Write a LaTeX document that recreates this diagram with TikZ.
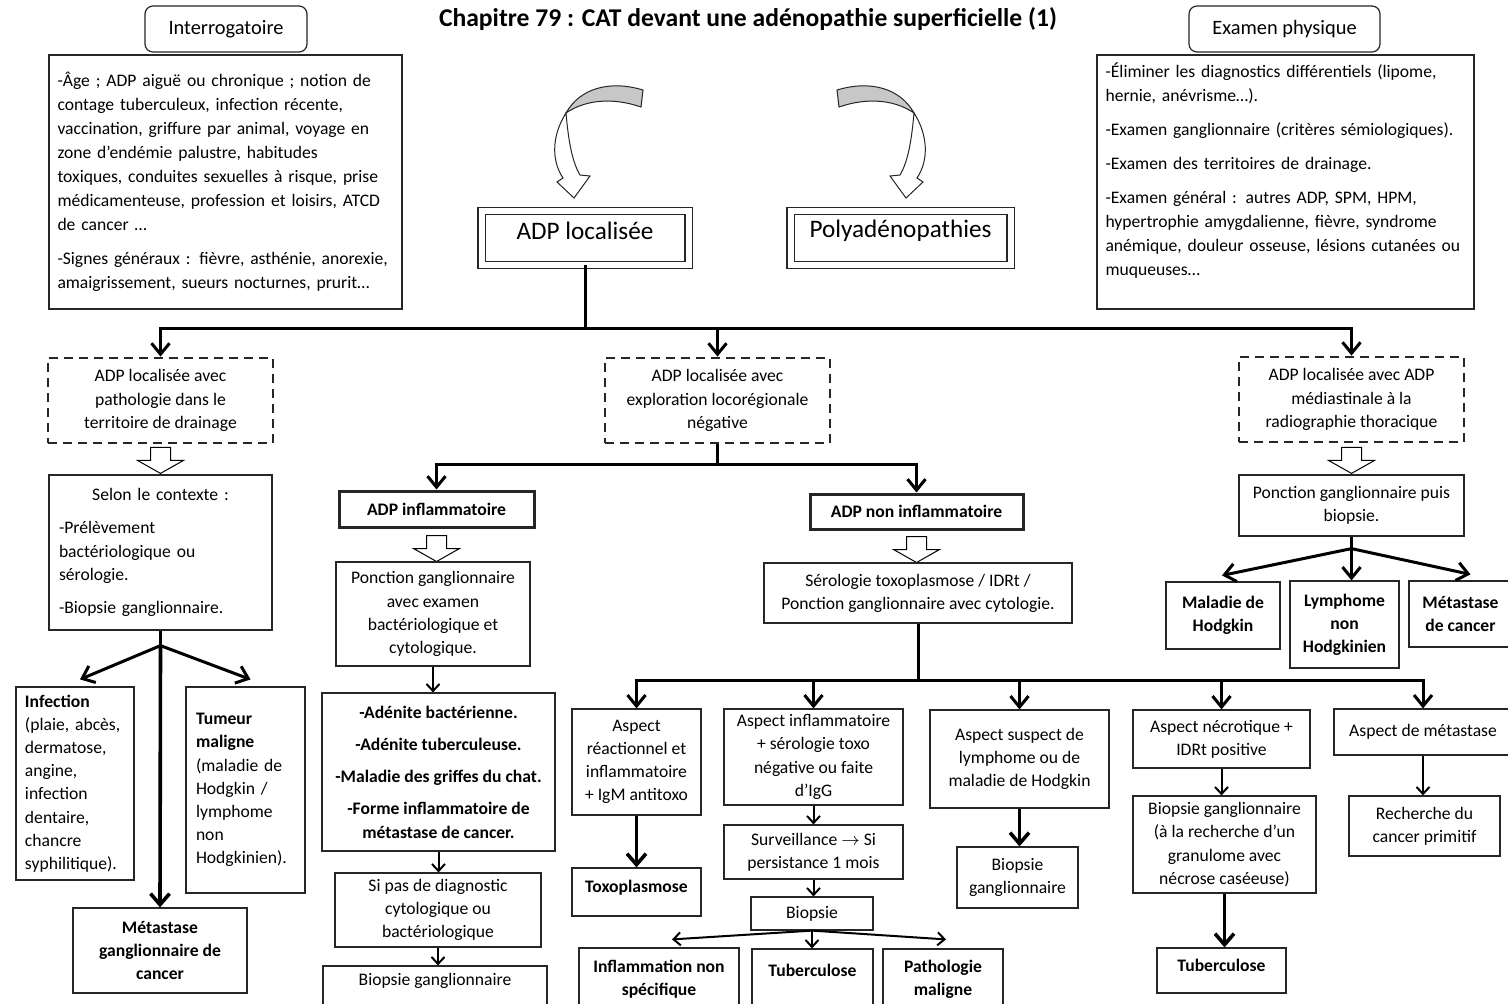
\documentclass[tikz,border=0pt]{standalone}
\usepackage{fontspec}
\setmainfont{Carlito}
\usetikzlibrary{
  arrows.meta,
  positioning,
  calc
}
\tikzset{
  plainbox/.style={
    draw=black!85,
    line width=0.6pt,
    inner sep=2pt,
    align=center,
    font=\fontsize{8.8}{11.6}\selectfont,
  },
  leftbox/.style={
    plainbox,
    align=left,
    inner xsep=5pt,
  },
  boldbox/.style={
    plainbox,
    font=\fontsize{8.8}{11.6}\selectfont\bfseries,
  },
  keybox/.style={
    boldbox,
    line width=1.5pt,
  },
  dashbox/.style={
    plainbox,
    line width=1.4pt,
    dash pattern=on 4.5pt off 3pt,
  },
  headbox/.style={
    plainbox,
    rounded corners=4pt,
    font=\fontsize{10.2}{12}\selectfont,
  },
  framebox/.style={
    draw=black!85,
    line width=0.6pt,
    double=white,
    double distance=3pt,
    font=\fontsize{12.6}{14}\selectfont,
  },
  link/.style={line width=1.5pt},
  arr/.style={-{Straight Barb[length=5.5pt,width=9pt]}, line width=1.5pt},
  bigarr/.style={-{Straight Barb[length=5.5pt,width=9.5pt]}, line width=1.8pt},
  thinarr/.style={-{Straight Barb[length=3.5pt,width=6.5pt]}, line width=1pt},
  hollowarrow/.pic={
    \draw[fill=white, line width=0.5pt]
      (-10,0) -- (10,0) -- (10,13) -- (23,13) -- (0,26) -- (-23,13) -- (-10,13) -- cycle;
  },
  % twisted ribbon arrow, grey back face then white front face with its head
  bentarrow/.pic={
    \draw[draw=black!85, fill=black!22, line width=0.5pt]
      (43,-50) .. controls (10,-60) and (-20,-52) .. (-34,-27)
      .. controls (-15,-40) and (12,-43) .. (41,-33) -- cycle;
    \draw[draw=black!85, fill=white, line width=0.5pt]
      (-34,-27) .. controls (-48,-5) and (-49,20) .. (-37,38)
      -- (-43,42) -- (-26,58) -- (-10,36) -- (-20,35)
      .. controls (-29,20) and (-32,-5) .. (-34,-27) -- cycle;
  },
}

\begin{document}
\begin{tikzpicture}[x=0.5pt, y=-0.5pt]
  \fill[white] (0,0) rectangle (1508,1003);
  \useasboundingbox (0,0) rectangle (1508,1003);

  % Header: title and the two clinical boxes
  \node[font=\fontsize{12.8}{15}\selectfont\bfseries] (title) at (748,19)
    {Chapitre 79 : CAT devant une adénopathie superficielle (1)};

  \node[headbox, minimum width=81pt, minimum height=23pt] (interrohead) at (226,29) {Interrogatoire};
  \node[leftbox, text width=168pt, inner xsep=4.25pt, minimum height=127pt,
        font=\fontsize{8.8}{12}\selectfont] (interro) at (225.5,182)
    {-Âge ; ADP aiguë ou chronique ; notion de\\
     contage tuberculeux, infection récente,\\
     vaccination, griffure par animal,  voyage en\\
     zone d’endémie palustre, habitudes\\
     toxiques, conduites sexuelles à risque, prise\\
     médicamenteuse, profession et loisirs, ATCD\\
     de cancer …\\[5pt]
     -Signes généraux : fièvre, asthénie, anorexie,\\
     amaigrissement, sueurs nocturnes, prurit…};

  \node[headbox, minimum width=95.5pt, minimum height=23pt] (examhead) at (1284.5,29) {Examen physique};
  \node[leftbox, text width=180pt, inner xsep=4.25pt, minimum height=127pt,
        font=\fontsize{8.8}{12}\selectfont] (exam) at (1285.5,182)
    {-Éliminer les diagnostics différentiels (lipome,\\
     hernie, anévrisme…).\\[5pt]
     -Examen ganglionnaire (critères sémiologiques).\\[5pt]
     -Examen des territoires de drainage.\\[5pt]
     -Examen général : autres ADP, SPM, HPM,\\
     hypertrophie amygdalienne, fièvre, syndrome\\
     anémique, douleur osseuse, lésions cutanées ou\\
     muqueuses…\\[1pt]\mbox{}};

  % Curved arrows towards the two presentations
  \pic at (600,140) {bentarrow};
  \pic[xscale=-1] at (880,140) {bentarrow};

  \node[framebox, minimum width=103.5pt, minimum height=26.75pt, text depth=7.5pt] (adploc) at (585,238) {ADP localisée};
  \node[framebox, minimum width=110pt, minimum height=26.75pt, text depth=9pt] (polyadp) at (900.5,238) {Polyadénopathies};

  % Three situations of a localised ADP
  \node[dashbox, minimum width=112.5pt, minimum height=42.5pt] (drain) at (160.5,400.5)
    {ADP localisée avec\\pathologie dans le\\territoire de drainage};
  \node[dashbox, minimum width=112.5pt, minimum height=42.5pt] (explo) at (717.5,400.5)
    {ADP localisée avec\\exploration locorégionale\\négative};
  \node[dashbox, minimum width=112.5pt, minimum height=42.5pt] (mediast) at (1351.5,399.5)
    {ADP localisée avec ADP\\médiastinale à la\\radiographie thoracique};

  \coordinate (split1) at (585,328);
  \draw[link] (adploc.south) -- (split1);
  \draw[arr] (split1) -| (drain.north);
  \draw[arr] (split1) -| (explo.north);
  \draw[arr] (split1) -| (mediast.north);

  % Left branch — drainage territory
  \pic at ([yshift=-1.5pt]drain.south) {hollowarrow};
  \node[leftbox, text width=101.5pt, minimum height=77.5pt] (selon) at (160.5,552.5)
    {\hfill Selon le contexte :\hfill\mbox{}\\[5pt]
     -Prélèvement\\bactériologique ou\\sérologie.\\[5pt]
     -Biopsie ganglionnaire.};
  \node[leftbox, text width=50pt, inner xsep=4.5pt, minimum height=96.5pt] (infect) at (75,783.5)
    {\textbf{Infection}\\(plaie, abcès,\\dermatose,\\angine,\\infection\\dentaire,\\chancre\\syphilitique).};
  \node[leftbox, text width=49.5pt, minimum height=103pt] (tumeur) at (245.5,790)
    {\textbf{Tumeur}\\\textbf{maligne}\\(maladie de\\Hodgkin /\\lymphome\\non\\Hodgkinien).};
  \node[boldbox, minimum width=87pt, minimum height=42.5pt] (metagg) at (160,950.5)
    {Métastase\\ganglionnaire  de\\cancer};

  \coordinate (split3) at ($(selon.south)+(0,15)$);
  \draw[link] (selon.south) -- (split3);
  \draw[arr] (split3) -- ($(infect.north)+(5,-7)$);
  \draw[arr] (split3) -- ($(tumeur.north)+(5,-7)$);
  \draw[bigarr] (split3) -- (metagg.north);

  % Middle branch — negative regional work-up
  \node[keybox, minimum width=97.5pt, minimum height=18pt] (inflam) at (436.5,509) {ADP inflammatoire};
  \node[keybox, minimum width=106.5pt, minimum height=17.5pt] (noninflam) at (916.5,511.5) {ADP non inflammatoire};

  \coordinate (split2) at ($(explo.south)+(0,20)$);
  \draw[link] (explo.south) -- (split2);
  \draw[arr] (split2) -| (inflam.north);
  \draw[arr] (split2) -| (noninflam.north);

  \pic at ([yshift=-3.5pt]inflam.south) {hollowarrow};
  \node[plainbox, minimum width=97pt, minimum height=52pt] (ponct) at (433,614)
    {Ponction ganglionnaire\\avec examen\\bactériologique et\\cytologique.};
  \node[boldbox, minimum width=116.5pt, minimum height=79pt] (adenite) at (438.5,772)
    {-Adénite bactérienne.\\[4.5pt]-Adénite tuberculeuse.\\[4.5pt]-Maladie  des griffes du chat.\\[4.5pt]-Forme inflammatoire de\\métastase de cancer.};
  \node[plainbox, minimum width=103pt, minimum height=37pt] (sipas) at (438,910)
    {Si pas de diagnostic\\cytologique ou\\bactériologique};
  \node[plainbox, minimum width=112pt, minimum height=25pt] (biogg1) at (435,991)
    {Biopsie ganglionnaire\\\mbox{}};

  \draw[thinarr] (ponct.south) -- (ponct.south |- adenite.north);
  \draw[thinarr] (adenite.south) -- (adenite.south |- sipas.north);
  \draw[thinarr] (sipas.south) -- (sipas.south |- biogg1.north);

  \pic at ([yshift=-3pt]noninflam.south) {hollowarrow};
  \node[plainbox, minimum width=154pt, minimum height=30pt] (sero) at (918,593)
    {Sérologie toxoplasmose / IDRt /\\Ponction ganglionnaire avec cytologie.};

  % Results of the non inflammatory work-up
  \node[plainbox, minimum width=64.5pt, minimum height=53pt] (aspreac) at (636.5,762)
    {Aspect\\réactionnel et\\inflammatoire\\+ IgM antitoxo};
  \node[boldbox, minimum width=64.5pt, minimum height=24pt, text depth=6pt] (toxo) at (636.5,892) {Toxoplasmose};
  \node[plainbox, minimum width=89.5pt, minimum height=48pt] (aspinf) at (813.5,757)
    {Aspect inflammatoire\\+ sérologie toxo\\négative ou faite\\d’IgG};
  \node[plainbox, minimum width=89.5pt, minimum height=27pt] (surv) at (813.5,852)
    {Surveillance $\rightarrow$ Si\\persistance 1 mois};
  \node[plainbox, minimum width=61pt, minimum height=16.5pt] (biopsie) at (812,913.5) {Biopsie};
  \node[boldbox, minimum width=80pt, minimum height=31pt] (inflns) at (659,979) {Inflammation non\\spécifique};
  \node[boldbox, minimum width=60.5pt, minimum height=33pt] (tuber1) at (812.5,982) {Tuberculose\\\mbox{}};
  \node[boldbox, minimum width=60pt, minimum height=30.5pt] (pathmal) at (943,979.5) {Pathologie\\maligne};
  \node[plainbox, minimum width=89.5pt, minimum height=49pt] (aspsus) at (1019.5,759)
    {Aspect suspect de\\lymphome ou de\\maladie de Hodgkin};
  \node[plainbox, minimum width=60.5pt, minimum height=30.5pt] (biogg2) at (1017.5,877.5) {Biopsie\\ganglionnaire};
  \node[plainbox, minimum width=88.5pt, minimum height=29pt] (necrot) at (1221.5,739)
    {Aspect nécrotique +\\IDRt positive};
  \node[plainbox, minimum width=91.5pt, minimum height=48.5pt] (biogran) at (1224.5,844.5)
    {Biopsie ganglionnaire\\(à la recherche d’un\\granulome avec\\nécrose caséeuse)};
  \node[boldbox, minimum width=64.5pt, minimum height=22.5pt, text depth=5pt] (tuber2) at (1221.5,970.5) {Tuberculose};
  \node[plainbox, minimum width=89pt, minimum height=23pt] (aspmeta) at (1423,732) {Aspect de métastase};
  \node[plainbox, minimum width=75.5pt, minimum height=30pt] (recher) at (1424.5,826)
    {Recherche du\\cancer primitif};

  \coordinate (split4) at ($(sero.south)+(0,57)$);
  \draw[link] (sero.south) -- (split4);
  \draw[arr] (split4) -| (aspreac.north);
  \draw[arr] (split4) -| (aspinf.north);
  \draw[arr] (split4) -| (aspsus.north);
  \draw[arr] (split4) -| (necrot.north);
  \draw[arr] (split4) -| (aspmeta.north);

  \draw[bigarr] (aspreac.south) -- (toxo.north);
  \draw[thinarr] (aspinf.south) -- (surv.north);
  \draw[thinarr] (surv.south) -- (surv.south |- biopsie.north);
  \draw[thinarr] (biopsie.south) -- ($(inflns.north)+(13,-8)$);
  \draw[thinarr] (biopsie.south) -- (biopsie.south |- tuber1.north);
  \draw[thinarr] (biopsie.south) -- ($(pathmal.north)+(3,-9)$);
  \draw[bigarr] (aspsus.south) -- (aspsus.south |- biogg2.north);
  \draw[thinarr] (necrot.south) -- (necrot.south |- biogran.north);
  \draw[bigarr] (biogran.south) -- (biogran.south |- tuber2.north);
  \draw[thinarr] (aspmeta.south) -- (aspmeta.south |- recher.north);

  % Right branch — mediastinal ADP
  \pic at ([yshift=-2pt]mediast.south) {hollowarrow};
  \node[plainbox, minimum width=112.5pt, minimum height=30.5pt] (ponctbio) at (1351.5,505.5)
    {Ponction ganglionnaire puis\\biopsie.};
  \node[boldbox, minimum width=57pt, minimum height=33.5pt] (hodgkin) at (1223,615.5) {Maladie  de\\Hodgkin};
  \node[boldbox, minimum width=54.5pt, minimum height=43.5pt] (lnh) at (1344.5,624.5) {Lymphome\\non\\Hodgkinien};
  \node[boldbox, minimum width=51.5pt, minimum height=33pt] (metcan) at (1460.5,614) {Métastase\\de cancer};

  \coordinate (split5) at ($(ponctbio.south)+(0,12)$);
  \draw[link] (ponctbio.south) -- (split5);
  \draw[arr] (split5) -- ($(hodgkin.north)+(-1,-6)$);
  \draw[arr] (split5) -- (split5 |- lnh.north);
  \draw[arr] (split5) -- ($(metcan.north)+(10,-6)$);
\end{tikzpicture}
\end{document}
